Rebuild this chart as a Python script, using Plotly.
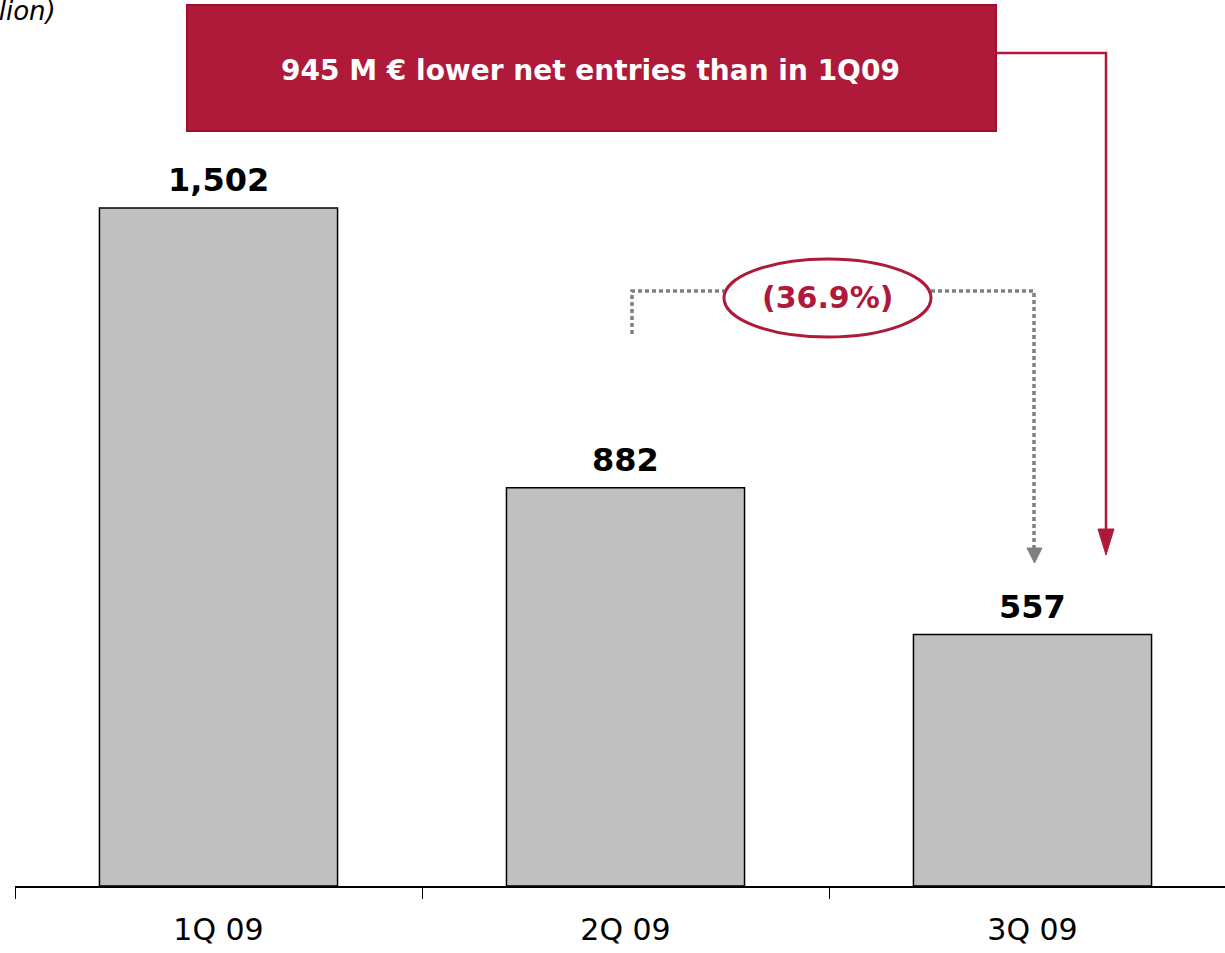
import plotly.graph_objects as go

# data
quarters = ["1Q 09", "2Q 09", "3Q 09"]
net_entries = [1502, 882, 557]
value_labels = ["1,502", "882", "557"]
box_text = "945 M € lower net entries than in 1Q09"
change_text = "(36.9%)"
unit_text = "(€ million)"

RED = "#B01A3A"
GRAY = "#808080"
FONT = "DejaVu Sans"

# pixel -> data helpers: bar slot 407px starting at 15px, baseline at 886px
YSCALE = 678 / 1502.0


def xd(px):
    return (px - 15) / 407.0 - 0.5


def yd(py):
    return (886 - py) / YSCALE


fig = go.Figure()
fig.add_trace(go.Bar(
    x=quarters, y=net_entries, width=0.585,
    marker=dict(color="#C0C0C0", line=dict(color="black", width=1.5)),
    hoverinfo="skip",
))

# value labels above bars
for q, v, t in zip(quarters, net_entries, value_labels):
    fig.add_annotation(x=q, y=v, text="<b>%s</b>" % t, showarrow=False,
                       yanchor="bottom", yshift=7,
                       font=dict(family=FONT, size=32, color="black"))

shapes = []
# red box + connector arrow
shapes.append(dict(type="rect", x0=xd(187), x1=xd(996), y0=yd(5), y1=yd(131),
                   fillcolor=RED, line=dict(color="#A0102A", width=2), layer="above"))
shapes.append(dict(type="path",
                   path="M %f,%f L %f,%f L %f,%f" % (xd(996), yd(53), xd(1106), yd(53), xd(1106), yd(532)),
                   line=dict(color=RED, width=2.5)))
shapes.append(dict(type="path",
                   path="M %f,%f L %f,%f L %f,%f Z" % (xd(1098), yd(529), xd(1114), yd(529), xd(1106), yd(555)),
                   fillcolor=RED, line=dict(color=RED, width=1)))

# gray dotted bracket
dot = dict(color=GRAY, width=3.5, dash="4px,3px")
shapes.append(dict(type="path",
                   path="M %f,%f L %f,%f L %f,%f" % (xd(632), yd(334), xd(632), yd(291), xd(724), yd(291)),
                   line=dot))
shapes.append(dict(type="path",
                   path="M %f,%f L %f,%f L %f,%f" % (xd(931), yd(291), xd(1034), yd(291), xd(1034), yd(548)),
                   line=dot))
shapes.append(dict(type="path",
                   path="M %f,%f L %f,%f L %f,%f Z" % (xd(1027), yd(548), xd(1042), yd(548), xd(1034.5), yd(563)),
                   fillcolor=GRAY, line=dict(color=GRAY, width=1)))
# ellipse
shapes.append(dict(type="circle", x0=xd(724), x1=xd(931), y0=yd(259), y1=yd(337),
                   fillcolor="white", line=dict(color=RED, width=3)))

fig.update_layout(shapes=shapes)

fig.add_annotation(x=xd(590), y=yd(70), text="<b>%s</b>" % box_text, showarrow=False,
                   font=dict(family=FONT, size=28, color="white"))
fig.add_annotation(x=xd(828), y=yd(297), text="<b>%s</b>" % change_text, showarrow=False,
                   font=dict(family=FONT, size=30, color=RED))
fig.add_annotation(x=xd(58), y=yd(11), text=unit_text, showarrow=False,
                   xanchor="right", yanchor="middle",
                   font=dict(family=FONT, size=26, color="black", style="italic"))

fig.update_layout(
    width=1225, height=953,
    margin=dict(l=15, r=0, t=0, b=953 - 886),
    plot_bgcolor="white", paper_bgcolor="white",
    showlegend=False,
    xaxis=dict(type="category", categoryorder="array", categoryarray=quarters,
               range=[-0.5, -0.5 + (1225 - 15) / 407.0],
               showline=True, linecolor="black", linewidth=2,
               ticks="outside", tickson="boundaries", ticklen=11, tickcolor="black", tickwidth=1,
               ticklabelstandoff=16,
               tickfont=dict(family=FONT, size=30, color="black"),
               showgrid=False, zeroline=False, fixedrange=True),
    yaxis=dict(range=[0, 886 / YSCALE], visible=False, showgrid=False, zeroline=False),
)

# drop the default body margin so the figure fills the window exactly
fig.write_html("out.html", config={"displayModeBar": False},
               post_script="document.body.style.margin='0px';")
